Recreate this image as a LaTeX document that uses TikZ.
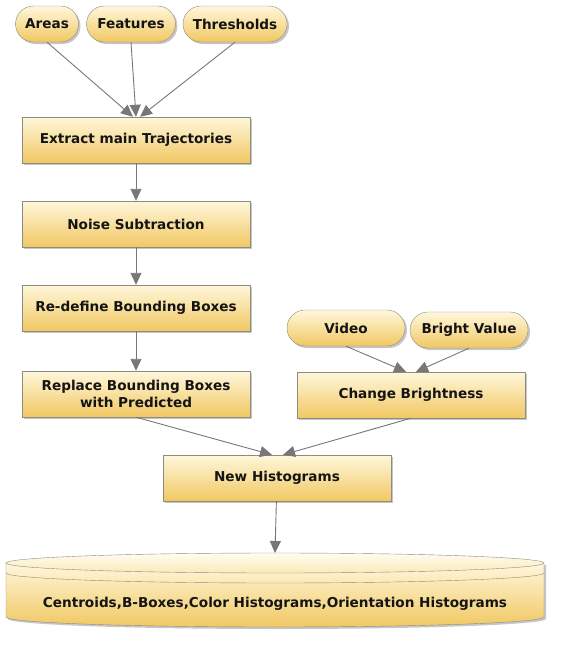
\documentclass[tikz,border=0pt]{standalone}
\usepackage{fontspec}
\setmainfont{DejaVu Sans}
\usetikzlibrary{arrows.meta,positioning,shadows,shapes.geometric}
\definecolor{fc-top}{HTML}{FFF7DC}
\definecolor{fc-bot}{HTML}{F1C862}
\definecolor{fc-line}{HTML}{8C8C80}
\definecolor{fc-arrow}{HTML}{777777}
\definecolor{fc-text}{HTML}{141414}
\tikzset{
  boxfont/.style={font=\bfseries\fontsize{13.6}{17}\selectfont, text=fc-text},
  stepbox/.style={draw=fc-line, top color=fc-top, bottom color=fc-bot, boxfont,
    minimum width=228pt, minimum height=46pt, align=center, inner sep=2pt,
    drop shadow={shadow xshift=2pt, shadow yshift=-2pt, opacity=0.45}},
  inputpill/.style={stepbox, rounded corners=18pt, minimum height=36pt, minimum width=#1},
  flow/.style={draw=fc-arrow, line width=0.9pt, -{Triangle[length=12pt, width=11pt]}},
}

\begin{document}
\begin{tikzpicture}[x=1pt, y=-1pt, node distance=84pt]
    \useasboundingbox (0,0) rectangle (563,648);
    % inputs
    \node[inputpill=63pt] (areas) at (47,24) {Areas};
    \node[inputpill=89pt] (features) at (131,24) {Features};
    \node[inputpill=104pt] (thresholds) at (235,24) {Thresholds};
    % main chain
    \node[stepbox] (extract) at (136,140) {Extract main Trajectories};
    \node[stepbox, below of=extract] (noise) {Noise Subtraction};
    \node[stepbox, below of=noise] (redefine) {Re-define Bounding Boxes};
    \node[stepbox] (replace) at (136,394) {Replace Bounding Boxes\\with Predicted};
    % brightness branch
    \node[inputpill=118pt] (video) at (346,328) {Video};
    \node[inputpill=118pt] (bright) at (469,330) {Bright Value};
    \node[stepbox] (change) at (411,395) {Change Brightness};
    \node[stepbox] (newhist) at (277,478) {New Histograms};
    % output store, drawn by hand
    \path[draw=fc-line, top color=fc-top, bottom color=fc-bot,
          drop shadow={shadow xshift=2pt, shadow yshift=-2pt, opacity=0.45}]
        (6,563) -- (6,617) arc[start angle=180, end angle=360, x radius=269pt, y radius=10pt]
        -- (544,563) -- cycle;
    \path[draw=fc-line, top color=white!60!fc-top, bottom color=fc-top!70!fc-bot]
        (275,563) ellipse[x radius=269pt, y radius=10pt];
    \draw[fc-line] (6,573) arc[start angle=180, end angle=360, x radius=269pt, y radius=10pt];
    \coordinate (store) at (275,553);
    \node[boxfont] (storetext) at (275,604)
        {Centroids,B-Boxes,Color Histograms,Orientation Histograms};
    \draw[flow] (areas.south) -- ([xshift=-3pt]extract.north);
    \draw[flow] (features.south) -- (extract.north);
    \draw[flow] (thresholds.south) -- ([xshift=4pt]extract.north);
    \draw[flow] (extract) -- (noise);
    \draw[flow] (noise) -- (redefine);
    \draw[flow] (redefine) -- (replace);
    \draw[flow] (video.south) -- ([xshift=-5pt]change.north);
    \draw[flow] (bright.south) -- ([xshift=5pt]change.north);
    \draw[flow] (replace.south) -- ([xshift=-5pt]newhist.north);
    \draw[flow] (change.south) -- ([xshift=6pt]newhist.north);
    \draw[flow] (newhist) -- (store);
\end{tikzpicture}
\end{document}
